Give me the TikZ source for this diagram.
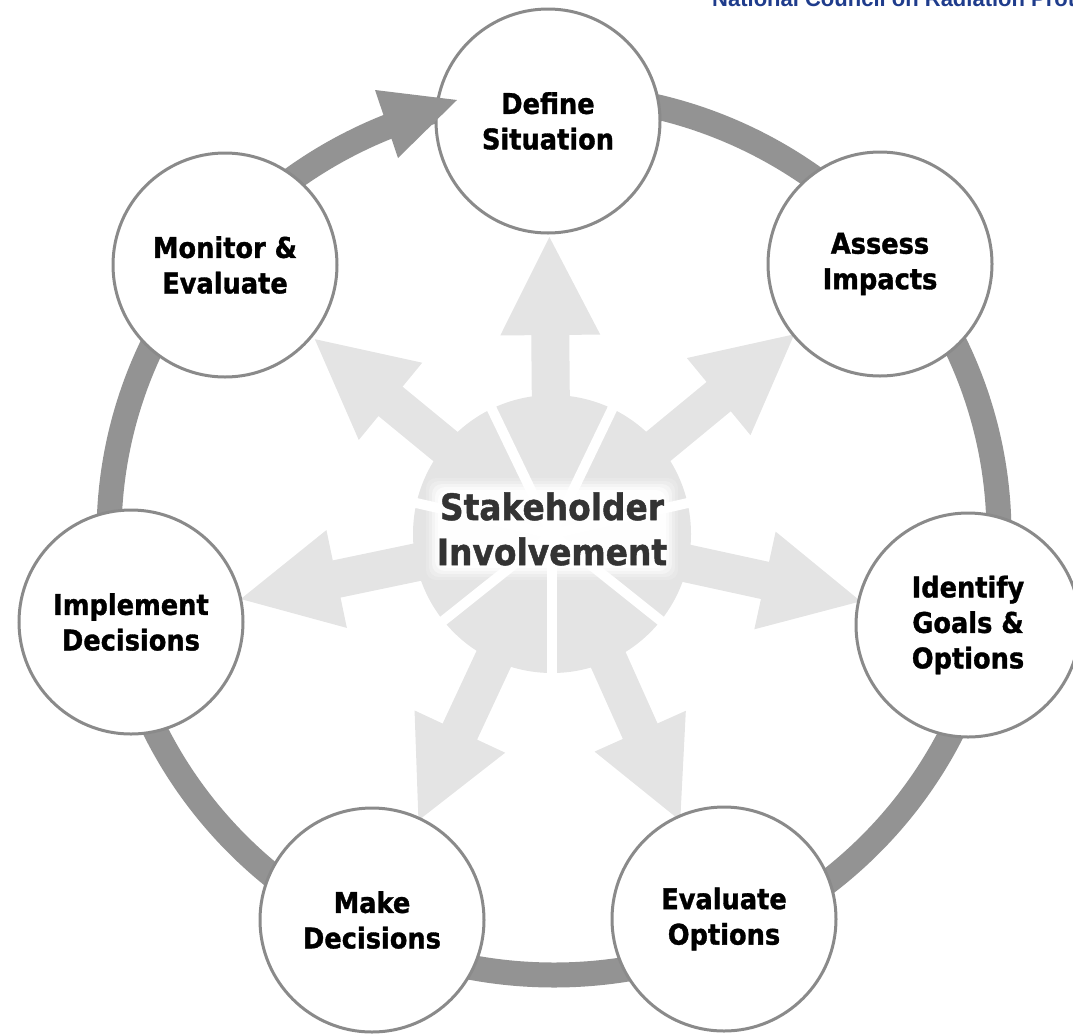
\documentclass[tikz,border=0pt]{standalone}
\usepackage{fontspec}
\newfontfamily\labfont[FakeStretch=0.9, BoldFeatures={FakeBold=1.2}]{DejaVu Sans}
\newfontfamily\hdrfont{Liberation Sans}
\definecolor{ringgray}{HTML}{939393}
\definecolor{edgegray}{HTML}{8A8A8A}
\definecolor{hubgray}{HTML}{E4E4E4}
\definecolor{hubtextc}{HTML}{333333}
\definecolor{ncrpblue}{HTML}{1F3C8C}
\begin{document}
\begin{tikzpicture}[x=1pt,y=1pt,
  stage/.style={circle, draw=edgegray, line width=3pt, fill=white, minimum size=224pt,
    inner sep=0pt, align=center, font=\labfont\bfseries\fontsize{28.5}{35.5}\selectfont, text=black},
  hubtxt/.style={align=center, inner sep=0pt, font=\labfont\bfseries\fontsize{36.5}{45}\selectfont, text=hubtextc},
  hubpiece/.style={fill=hubgray},
  gapline/.style={draw=white, line width=10pt},
  ringband/.style={draw=ringgray, line width=25pt},
]
\useasboundingbox (0,0) rectangle (1073,-1034);
\clip (0,0) rectangle (1073,-1034);

% header (clipped at the top edge)
\node[anchor=base west, inner sep=0pt, font=\hdrfont\bfseries\fontsize{22}{22}\selectfont, text=ncrpblue] (hdr) at (712,-6) {National Council on Radiation Protection};

% outer ring
\coordinate (ringc) at (554,-535);
\draw[ringband] (ringc) ellipse[x radius=445, y radius=440];

% hub with radial arrows (angle / length)
\coordinate (hub) at (552,-534);
\fill[hubpiece] (hub) circle[radius=139];
\foreach \a/\len in {90.5/297, 39.5/314, -12.3/316, -65.9/314, -115/316, 191.8/318, 140.6/307}{
  \begin{scope}[shift={(hub)}, rotate=\a]
    \fill[hubpiece] (100,-19) -- (\len-98,-19) -- (\len-98,-50) -- (\len,0) -- (\len-98,50) -- (\len-98,19) -- (100,19) -- cycle;
  \end{scope}
}
\foreach \b in {115.71,64.29,12.86,-38.57,-90,-141.43,167.14}{
  \draw[gapline] (hub) -- ([shift={(\b:150)}]hub);
}

% soft white glow behind the hub text
\foreach \m/\op in {12/0.15,9/0.25,6/0.4,3/0.6,0/0.85}{
  \fill[white, opacity=\op, rounded corners=10pt] (438-\m,-568-\m) rectangle (666+\m,-490+\m);
}
\node[hubtxt] (hubtext) at (552,-529) {Stakeholder\\Involvement};

% stage circles
\node[stage] (define)    at (548,-121) {Define\\Situation};
\node[stage] (assess)    at (880,-264) {Assess\\Impacts};
\node[stage] (identify)  at (968,-625) {Identify\\Goals \&\\Options};
\node[stage] (evaluate)  at (724,-919) {Evaluate\\Options};
\node[stage] (make)      at (372,-920) {Make\\Decisions};
\node[stage] (implement) at (131,-622) {Implement\\Decisions};
\node[stage] (monitor)   at (225,-265) {Monitor \&\\Evaluate};

% arrowhead of the ring pointing into Define Situation
\coordinate (headtip) at (457,-100);
\coordinate (headout) at (375,-90);
\coordinate (headin)  at (398,-158);
\fill[ringgray] (headout) -- (headtip) -- (headin) -- cycle;
\end{tikzpicture}
\end{document}
